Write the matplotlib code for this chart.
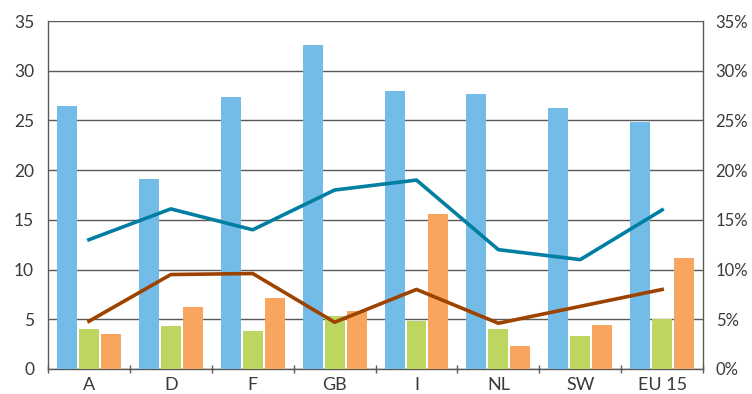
import numpy as np
import matplotlib
matplotlib.use("Agg")
import matplotlib.pyplot as plt

plt.rcParams['font.family'] = ['Lato', 'DejaVu Sans']

# Länder und Werte
countries = ['A', 'D', 'F', 'GB', 'I', 'NL', 'SW', 'EU 15']
blue_vals = [26.5, 19.1, 27.4, 32.6, 28.0, 27.7, 26.2, 24.8]
green_vals = [4.0, 4.3, 3.8, 5.3, 4.8, 4.0, 3.3, 5.0]
orange_vals = [3.5, 6.2, 7.1, 5.8, 15.6, 2.3, 4.4, 11.2]
teal_pct = [13.0, 16.1, 14.0, 18.0, 19.0, 12.0, 11.0, 16.0]
brown_pct = [4.8, 9.5, 9.6, 4.7, 8.0, 4.6, 6.3, 8.0]

left_ticks = [0, 5, 10, 15, 20, 25, 30, 35]
right_ticks = [0, 5, 10, 15, 20, 25, 30, 35]

c_blue = '#74bce8'
c_green = '#bcd660'
c_orange = '#f8a65f'
c_teal = '#007fa3'
c_brown = '#9c4300'
c_text = '#3a3a3a'
c_grid = '#5a5a5a'

fig = plt.figure(figsize=(7.52, 3.94), dpi=100)
ax = fig.add_axes([0.0638, 0.0635, 0.935 - 0.0638, 0.9467 - 0.0635])

x = np.arange(len(countries))
w = 0.244
off = 0.268
ax.bar(x - off, blue_vals, w, color=c_blue, zorder=3)
ax.bar(x, green_vals, w, color=c_green, zorder=3)
ax.bar(x + off, orange_vals, w, color=c_orange, zorder=3)

ax.set_xlim(-0.5, len(countries) - 0.5)
ax.set_ylim(0, 35)
ax.set_yticks(left_ticks)
ax.set_yticklabels([str(t) for t in left_ticks])
ax.yaxis.grid(True, color=c_grid, linewidth=1.0, zorder=0)
ax.set_axisbelow(True)

# Kategoriengrenzen als Ticks unten
ax.set_xticks(np.arange(-0.5, len(countries), 1.0))
ax.set_xticklabels([])
ax.set_xticks(x, minor=True)
ax.set_xticklabels(countries, minor=True)
ax.tick_params(axis='x', which='major', length=6, width=1, color=c_grid, direction='inout')
ax.tick_params(axis='x', which='minor', length=0, labelsize=13, labelcolor=c_text, pad=6)
ax.tick_params(axis='y', length=0, labelsize=12.5, labelcolor=c_text, pad=10)

for s in ['left', 'right', 'bottom']:
    ax.spines[s].set_color(c_grid)
    ax.spines[s].set_linewidth(1.0)
ax.spines['top'].set_visible(False)

ax2 = ax.twinx()
ax2.set_position(ax.get_position())
ax2.plot(x, teal_pct, color=c_teal, linewidth=2.6, zorder=4)
ax2.plot(x, brown_pct, color=c_brown, linewidth=2.6, zorder=4)
ax2.set_ylim(0, 35)
ax2.set_yticks(right_ticks)
ax2.set_yticklabels([f'{t}%' for t in right_ticks])
ax2.tick_params(axis='y', length=0, labelsize=12, labelcolor=c_text, pad=9)
for s in ['left', 'top', 'bottom', 'right']:
    ax2.spines[s].set_visible(False)

fig.savefig('out.png', dpi=100)
